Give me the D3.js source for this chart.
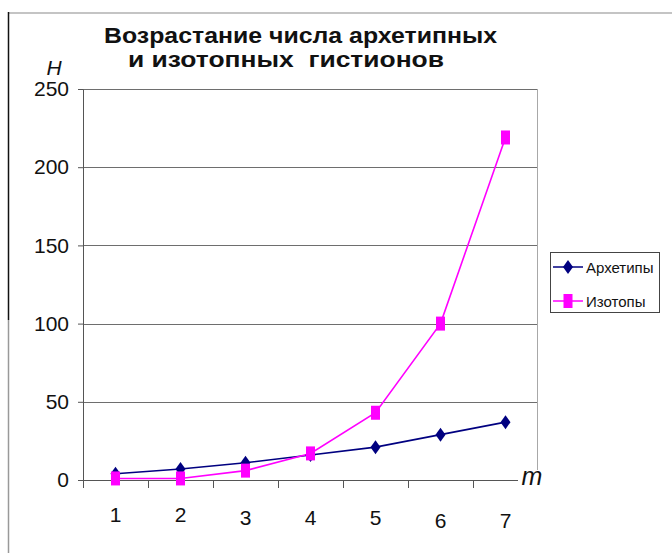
<!DOCTYPE html>
<html>
<head>
<meta charset="utf-8">
<script src="https://cdnjs.cloudflare.com/ajax/libs/d3/7.8.5/d3.min.js"></script>
<style>
  html, body { margin: 0; padding: 0; background: #fff; }
  svg { display: block; font-family: "Liberation Sans", Arial, sans-serif; }
</style>
</head>
<body>
<svg id="chart" width="672" height="553"></svg>
<script>
// Number of histions by level m
const categories = ["1", "2", "3", "4", "5", "6", "7"];
const archetypes = [4, 7, 11, 16, 21, 29, 37];
const isotopes = [1, 1, 6, 17, 43, 100, 219];
const yTicks = [0, 50, 100, 150, 200, 250];
const seriesNames = ["Архетипы", "Изотопы"];
const titleLines = ["Возрастание числа архетипных", "и изотопных  гистионов"];

const svg = d3.select("#chart");
const plot = { left: 83, right: 538, top: 89, bottom: 480 };

const x = d3.scaleBand().domain(categories).range([plot.left, plot.right]).padding(0);
const y = d3.scaleLinear().domain([0, 250]).range([plot.bottom, plot.top]);

// page frame remnants
svg.append("line").attr("x1", 9).attr("x2", 672).attr("y1", 13).attr("y2", 13)
  .attr("stroke", "#8a8a8a").attr("stroke-width", 1.2);
svg.append("line").attr("x1", 8.5).attr("x2", 8.5).attr("y1", 12).attr("y2", 320)
  .attr("stroke", "#111").attr("stroke-width", 1.5);
svg.append("line").attr("x1", 8.5).attr("x2", 8.5).attr("y1", 320).attr("y2", 553)
  .attr("stroke", "#999").attr("stroke-width", 1.5);

// title, two lines stretched to a fixed width
svg.append("text").attr("x", 104).attr("y", 43)
  .attr("font-size", 22).attr("font-weight", "bold").attr("fill", "#111")
  .attr("textLength", 393).attr("lengthAdjust", "spacingAndGlyphs")
  .text(titleLines[0]);
svg.append("text").attr("x", 128).attr("y", 67)
  .attr("font-size", 22).attr("font-weight", "bold").attr("fill", "#111")
  .attr("textLength", 316).attr("lengthAdjust", "spacingAndGlyphs")
  .style("white-space", "pre").attr("xml:space", "preserve")
  .text(titleLines[1]);

// axis names
svg.append("text").attr("x", 54).attr("y", 75).attr("text-anchor", "middle")
  .attr("font-size", 21).attr("font-style", "italic").attr("fill", "#111").text("H");
svg.append("text").attr("x", 532).attr("y", 485).attr("text-anchor", "middle")
  .attr("font-size", 25).attr("font-style", "italic").attr("fill", "#111").text("m");

// horizontal gridlines
svg.append("g").selectAll("line").data(yTicks.filter(d => d > 0)).join("line")
  .attr("x1", plot.left).attr("x2", plot.right)
  .attr("y1", d => Math.round(y(d)) + 0.5).attr("y2", d => Math.round(y(d)) + 0.5)
  .attr("stroke", "#6e6e6e").attr("stroke-width", 1);

// right border of plot area
svg.append("line").attr("x1", plot.right - 0.5).attr("x2", plot.right - 0.5)
  .attr("y1", plot.top).attr("y2", 470).attr("stroke", "#a8a8a8").attr("stroke-width", 1);

// y axis
const yAxis = svg.append("g").attr("transform", `translate(${plot.left},0)`)
  .call(d3.axisLeft(y).tickValues(yTicks).tickSize(5).tickPadding(9).tickSizeOuter(0));
yAxis.select(".domain").attr("stroke", "#555");
yAxis.selectAll(".tick line").attr("stroke", "#555");
yAxis.selectAll("text").attr("font-size", 21).attr("fill", "#111")
  .attr("font-family", "Liberation Sans, Arial, sans-serif");

// x axis: line, boundary ticks, centred labels
svg.append("line").attr("x1", plot.left).attr("x2", 518)
  .attr("y1", plot.bottom + 0.5).attr("y2", plot.bottom + 0.5)
  .attr("stroke", "#555").attr("stroke-width", 1);
svg.append("g").selectAll("line").data(categories).join("line")
  .attr("x1", d => Math.round(x(d)) + 0.5).attr("x2", d => Math.round(x(d)) + 0.5)
  .attr("y1", plot.bottom).attr("y2", plot.bottom + 8)
  .attr("stroke", "#555");
const xAxis = svg.append("g").attr("transform", `translate(0,${plot.bottom})`)
  .call(d3.axisBottom(x).tickSize(0).tickPadding(27));
xAxis.select(".domain").remove();
xAxis.selectAll("text").attr("font-size", 21).attr("fill", "#111")
  .attr("font-family", "Liberation Sans, Arial, sans-serif")
  .attr("dy", (d, i) => (0.71 + (i < 2 ? 0 : i < 5 ? 0.14 : 0.28)) + "em");

const cx = d => x(d) + x.bandwidth() / 2;
const navy = "#000080", magenta = "#ff00ff";

const line = d3.line().x((d, i) => cx(categories[i])).y(d => y(d));

svg.append("path").datum(archetypes).attr("d", line)
  .attr("fill", "none").attr("stroke", navy).attr("stroke-width", 1.6);
svg.append("path").datum(isotopes).attr("d", line)
  .attr("fill", "none").attr("stroke", magenta).attr("stroke-width", 1.6);

const diamond = (px, py) => `M${px},${py - 7}L${px + 5},${py}L${px},${py + 7}L${px - 5},${py}Z`;

svg.append("g").selectAll("path").data(archetypes).join("path")
  .attr("d", (d, i) => diamond(cx(categories[i]), y(d)))
  .attr("fill", navy);
svg.append("g").selectAll("rect").data(isotopes).join("rect")
  .attr("x", (d, i) => cx(categories[i]) - 4.5).attr("y", d => y(d) - 7)
  .attr("width", 9).attr("height", 14).attr("fill", magenta);

// legend
const lg = svg.append("g");
lg.append("rect").attr("x", 550.5).attr("y", 252.5).attr("width", 109).attr("height", 60)
  .attr("fill", "#fff").attr("stroke", "#444").attr("stroke-width", 1);
const rows = [
  { name: seriesNames[0], color: navy, ly: 267, mark: "d" },
  { name: seriesNames[1], color: magenta, ly: 301, mark: "s" }
];
rows.forEach(r => {
  lg.append("line").attr("x1", 553).attr("x2", 583).attr("y1", r.ly).attr("y2", r.ly)
    .attr("stroke", r.color).attr("stroke-width", 1.5);
  if (r.mark === "d") {
    lg.append("path").attr("d", diamond(568, r.ly)).attr("fill", r.color);
  } else {
    lg.append("rect").attr("x", 563.5).attr("y", r.ly - 7).attr("width", 9).attr("height", 14)
      .attr("fill", r.color);
  }
  lg.append("text").attr("x", 586).attr("y", r.ly + 5.5).attr("font-size", 15)
    .attr("fill", "#111").text(r.name);
});
</script>
</body>
</html>
